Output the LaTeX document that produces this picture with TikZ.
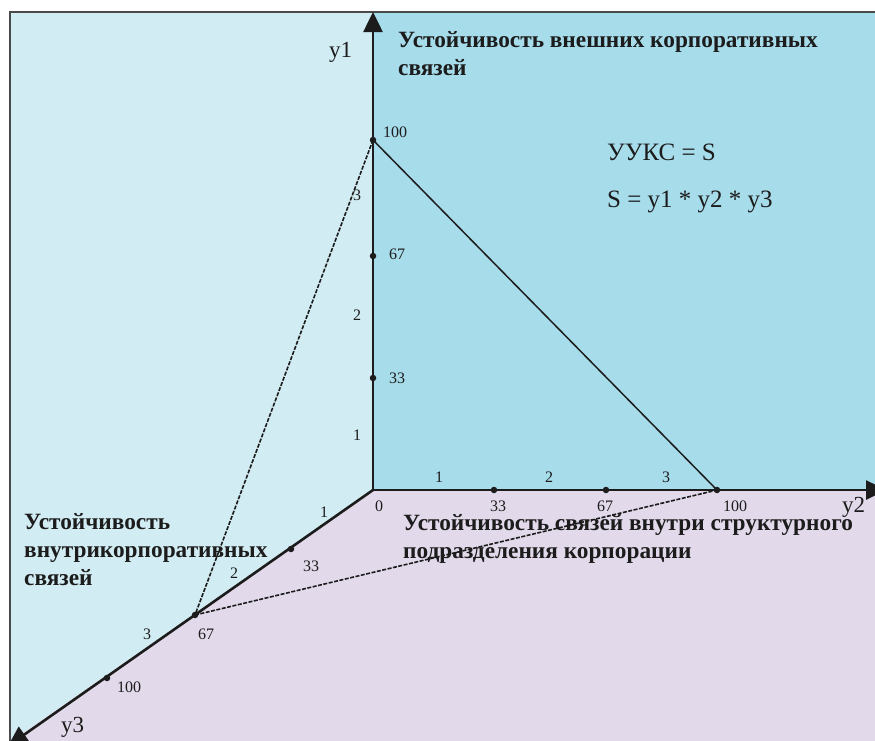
\documentclass[tikz,border=0pt]{standalone}
\usepackage{fontspec}
\setmainfont{Liberation Serif}
\usetikzlibrary{arrows.meta,positioning,calc}
\definecolor{skyleft}{HTML}{D1ECF2}
\definecolor{skyright}{HTML}{A7DCEB}
\definecolor{lilac}{HTML}{E2DAEB}
\definecolor{rim}{HTML}{4A4A4A}
\definecolor{ink}{HTML}{1C1C1C}
\tikzset{axis/.style={line width=2.6pt,ink,-{Triangle[width=19pt,length=20pt]}},
  tick/.style={circle,fill=ink,inner sep=0pt,minimum size=6.5pt},
  num/.style={font=\fontsize{16}{16}\selectfont,text=ink,inner sep=0pt,text depth=0pt,anchor=base west},
  axlabel/.style={font=\fontsize{23}{23}\selectfont,text=ink,inner sep=0pt,anchor=base west},
  title/.style={font=\fontsize{23.3}{28}\selectfont\bfseries,text=ink,align=left,inner sep=0pt,text height=15pt,anchor=base west},
  formula/.style={font=\fontsize{25}{25}\selectfont,text=ink,inner sep=0pt,anchor=base west},
  side/.style={line width=1.5pt,ink},
  dside/.style={line width=1.6pt,ink,dash pattern=on 4pt off 1.5pt}}

\begin{document}
\begin{tikzpicture}[x=1pt,y=-1pt]
\useasboundingbox (0,0) rectangle (875,740);
% planes
\fill[skyleft] (10,12) -- (373,12) -- (373,490) -- (10,742) -- cycle;
\fill[skyright] (373,12) -- (880,12) -- (880,490) -- (373,490) -- cycle;
\fill[lilac] (373,490) -- (880,490) -- (880,745) -- (10,745) -- (10,742) -- cycle;
\draw[rim,line width=2pt] (10,745) -- (10,12) -- (880,12);
% axes
\coordinate (O) at (373,490);
\coordinate (y1end) at (373,12);
\coordinate (y2end) at (886,490);
\coordinate (y3end) at (8,746);
\draw[axis] (O) -- (y1end);
\draw[axis] (O) -- (y2end);
\draw[axis] (O) -- (y3end);
% ticks
\foreach \v/\p in {33/378,67/256,100/140} \node[tick] (a\v) at (373,\p) {};
\foreach \v/\p in {33/494,67/606,100/717} \node[tick] (b\v) at (\p,490) {};
\foreach \v/\p/\q in {33/291/549,67/195/615,100/107/678} \node[tick] (c\v) at (\p,\q) {};
% triangle
\draw[side] (a100.center) -- (b100.center);
\draw[dside] (a100.center) -- (c67.center);
\draw[dside] (c67.center) -- (b100.center);
% y1 numbers
\node[num] at (383,137) {100};
\node[num] at (389,259) {67};
\node[num] at (389,383) {33};
\foreach \n/\p in {3/200,2/320,1/440} \node[num] at (353,\p) {\n};
% y2 numbers
\node[num] at (375,511) {0};
\foreach \n/\p in {33/490,67/597,100/723} \node[num] at (\p,511) {\n};
\foreach \n/\p in {1/435,2/545,3/662} \node[num] at (\p,482) {\n};
% y3 numbers
\node[num] at (320,517) {1};
\node[num] at (303,571) {33};
\node[num] at (230,578) {2};
\node[num] at (198,639) {67};
\node[num] at (143,639) {3};
\node[num] at (117,692) {100};
% axis names
\node[axlabel] (n1) at (329,57) {y1};
\node[axlabel] (n2) at (842,512) {y2};
\node[axlabel] (n3) at (61,732) {y3};
% titles
\node[title] (t1) at (398,75) {Устойчивость внешних корпоративных\\связей};
\node[title] (t3) at (24,585) {Устойчивость\\внутрикорпоративных\\связей};
\node[title] (t2) at (403,558) {Устойчивость связей внутри структурного\\подразделения корпорации};
\node[formula] (f1) at (607,160) {УУКС = S};
\node[formula] (f2) at (607,207) {S = y1 * y2 * y3};
\end{tikzpicture}
\end{document}
